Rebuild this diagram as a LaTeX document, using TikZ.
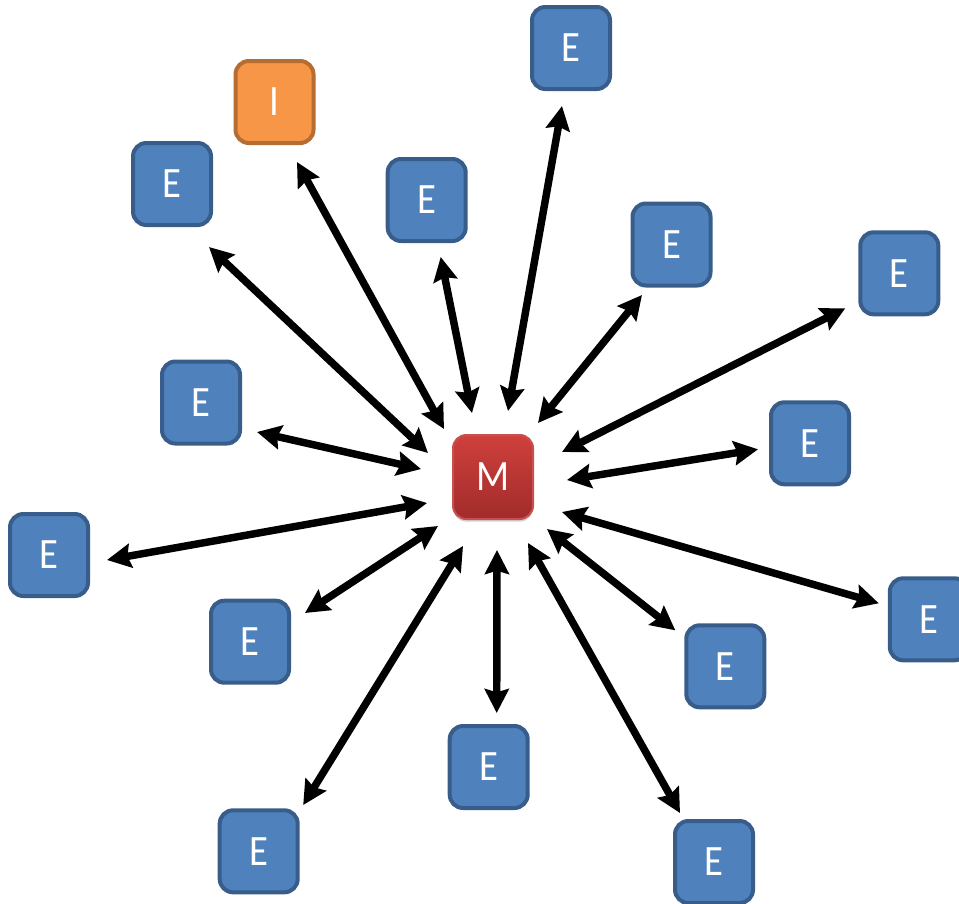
\documentclass[tikz,border=0pt]{standalone}
\usepackage{fontspec}
\usepackage{graphicx}
\setmainfont{Carlito}
\usetikzlibrary{arrows.meta,shadows}
\definecolor{eblue}{HTML}{4F81BD}
\definecolor{eborder}{HTML}{385D8A}
\definecolor{iorange}{HTML}{F79646}
\definecolor{iborder}{HTML}{B66D31}
\definecolor{mtop}{HTML}{CF403C}
\definecolor{mbot}{HTML}{A12C2B}
\definecolor{mborder}{HTML}{C85050}
\newcommand{\talltxt}[1]{\scalebox{1}[1.12]{#1}}
\begin{document}
\begin{tikzpicture}[x=0.75pt,y=-0.75pt,
  box/.style={rectangle, rounded corners=10pt, minimum width=58.5pt, minimum height=61.5pt,
    line width=3pt, text=white, font=\fontsize{29}{29}\selectfont, inner sep=0pt},
  ebox/.style={box, fill=eblue, draw=eborder},
  ibox/.style={box, fill=iorange, draw=iborder},
  mbox/.style={box, top color=mtop, bottom color=mbot, draw=mborder, line width=1.5pt,
    minimum width=60pt, minimum height=63pt,
    drop shadow={shadow xshift=0pt, shadow yshift=-2pt, opacity=0.18, fill=black}},
  link/.style={line width=5.6pt, {Stealth[length=18pt,width=18pt,inset=2.5pt]}-{Stealth[length=18pt,width=18pt,inset=2.5pt]}}
]
\useasboundingbox (0,0) rectangle (959,903);
\clip (0,0) rectangle (959,903);

\node[mbox] (M) at (493,477) {\talltxt{M}};
\node[ibox] (I) at (274.5,102) {\talltxt{I}};
\node[ebox] (e1) at (571,48) {\talltxt{E}};
\node[ebox] (e2) at (172,184) {\talltxt{E}};
\node[ebox] (e3) at (426.7,200) {\talltxt{E}};
\node[ebox] (e4) at (671.5,244.5) {\talltxt{E}};
\node[ebox] (e5) at (899.3,273.3) {\talltxt{E}};
\node[ebox] (e6) at (201,402.5) {\talltxt{E}};
\node[ebox] (e7) at (810,443.3) {\talltxt{E}};
\node[ebox] (e8) at (49,555) {\talltxt{E}};
\node[ebox] (e9) at (928.8,619.3) {\talltxt{E}};
\node[ebox] (e10) at (250,641.7) {\talltxt{E}};
\node[ebox] (e11) at (725.3,666.3) {\talltxt{E}};
\node[ebox] (e12) at (488.7,767) {\talltxt{E}};
\node[ebox] (e13) at (258.7,851.3) {\talltxt{E}};
\node[ebox] (e14) at (714,862) {\talltxt{E}};

\draw[link] ([shift={(15,-66)}]M.center) -- ([shift={(-9,58)}]e1.center);
\draw[link] ([shift={(-49,-48)}]M.center) -- ([shift={(22.5,60)}]I.center);
\draw[link] ([shift={(-65,-24)}]M.center) -- ([shift={(37,63)}]e2.center);
\draw[link] ([shift={(-21,-64)}]M.center) -- ([shift={(14,57)}]e3.center);
\draw[link] ([shift={(45,-54)}]M.center) -- ([shift={(-29.5,50.5)}]e4.center);
\draw[link] ([shift={(69,-25)}]M.center) -- ([shift={(-54,35)}]e5.center);
\draw[link] ([shift={(-72,-8)}]M.center) -- ([shift={(56,29.5)}]e6.center);
\draw[link] ([shift={(74,3)}]M.center) -- ([shift={(-52,6)}]e7.center);
\draw[link] ([shift={(-66,26)}]M.center) -- ([shift={(58,5)}]e8.center);
\draw[link] ([shift={(69,35)}]M.center) -- ([shift={(-50,-16)}]e9.center);
\draw[link] ([shift={(-55,49)}]M.center) -- ([shift={(55,-28.7)}]e10.center);
\draw[link] ([shift={(54,52)}]M.center) -- ([shift={(-50,-36)}]e11.center);
\draw[link] ([shift={(4,73)}]M.center) -- ([shift={(8,-54)}]e12.center);
\draw[link] ([shift={(-30,69)}]M.center) -- ([shift={(44.5,-46.3)}]e13.center);
\draw[link] ([shift={(35,66)}]M.center) -- ([shift={(-34,-49)}]e14.center);
\end{tikzpicture}
\end{document}
